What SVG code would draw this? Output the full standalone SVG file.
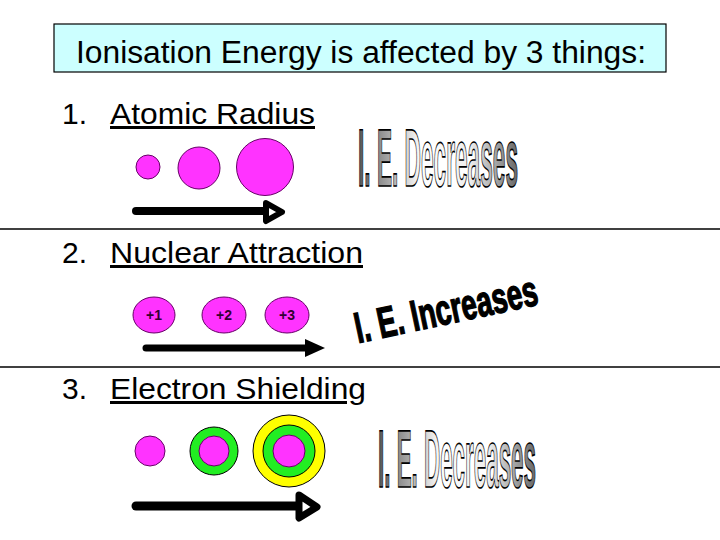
<svg xmlns="http://www.w3.org/2000/svg" width="720" height="540" viewBox="0 0 720 540">
<defs>
<style>
.t{font-family:"Liberation Sans",Arial,sans-serif;fill:#000}
.h{font-size:30px}
.u{text-decoration:underline}
.mag{fill:#ff33ff;stroke:#660066;stroke-width:1}
.grn{fill:#22ee22;stroke:#000;stroke-width:1}
.yel{fill:#ffff00;stroke:#000;stroke-width:1}
.shaft{stroke:#000;stroke-linecap:round;fill:none}
.wa{font-family:"Liberation Sans",Arial,sans-serif;font-weight:bold;stroke:#000;stroke-width:1.3;vector-effect:non-scaling-stroke}
.ion{font-family:"Liberation Sans",Arial,sans-serif;font-weight:bold;font-size:14px;fill:#330033;text-anchor:middle}
</style>
<linearGradient id="gr" x1="0" y1="0" x2="1" y2="0">
<stop offset="0" stop-color="#555"/>
<stop offset="0.4" stop-color="#fff"/>
<stop offset="0.7" stop-color="#eee"/>
<stop offset="1" stop-color="#666"/>
</linearGradient>
</defs>
<rect width="720" height="540" fill="#fff"/>

<g id="title">
<rect x="54" y="24" width="612" height="48" fill="#ccffff" stroke="#000" stroke-width="1.2"/>
<text class="t" x="361" y="63" font-size="31" text-anchor="middle" textLength="570" lengthAdjust="spacingAndGlyphs">Ionisation Energy is affected by 3 things:</text>
</g>

<g id="dividers" stroke="#000" stroke-width="1.5">
<line x1="0" y1="229" x2="720" y2="229"/>
<line x1="0" y1="367" x2="720" y2="367"/>
</g>

<g id="heading1">
<text class="t h" x="62" y="124">1.</text>
<text class="t h u" x="110" y="124" textLength="205" lengthAdjust="spacingAndGlyphs">Atomic Radius</text>
</g>
<g id="heading2">
<text class="t h" x="62" y="263">2.</text>
<text class="t h u" x="110" y="263" textLength="253" lengthAdjust="spacingAndGlyphs">Nuclear Attraction</text>
</g>
<g id="heading3">
<text class="t h" x="62" y="399">3.</text>
<text class="t h u" x="110" y="399" textLength="256" lengthAdjust="spacingAndGlyphs">Electron Shielding</text>
</g>

<g id="radius-atoms">
<circle class="mag" cx="148" cy="167" r="12"/>
<circle class="mag" cx="199" cy="168" r="21"/>
<circle class="mag" cx="265" cy="167" r="28.5"/>
</g>

<g id="charge-atoms">
<ellipse class="mag" cx="154" cy="315" rx="21" ry="18"/>
<text class="ion" x="154" y="320">+1</text>
<ellipse class="mag" cx="224" cy="315" rx="22" ry="18"/>
<text class="ion" x="224" y="320">+2</text>
<ellipse class="mag" cx="287" cy="315" rx="22" ry="18"/>
<text class="ion" x="287" y="320">+3</text>
</g>

<g id="shielding-atoms">
<circle class="mag" cx="150" cy="451" r="15"/>
<circle class="grn" cx="214" cy="451" r="24"/>
<circle class="mag" cx="214" cy="451" r="15"/>
<circle class="yel" cx="289" cy="451" r="36"/>
<circle class="grn" cx="289" cy="451" r="26"/>
<circle class="mag" cx="289" cy="451" r="16"/>
</g>

<g id="connectors">
<line class="shaft" x1="136" y1="211" x2="266" y2="211" stroke-width="8"/>
<polygon points="266,203 282,212 266,221" fill="#fff" stroke="#000" stroke-width="6" stroke-linejoin="round"/>
<line class="shaft" x1="146" y1="348" x2="308" y2="348" stroke-width="7" stroke-linecap="butt"/>
<polygon points="305,339 325,348 305,357" fill="#000"/>
<line class="shaft" x1="136" y1="506" x2="299" y2="506" stroke-width="9"/>
<polygon points="299,495 317,507 299,518" fill="#fff" stroke="#000" stroke-width="7" stroke-linejoin="round"/>
</g>

<g id="label-decreases-1">
<text class="wa" transform="translate(358,186) scale(1,2.4)" font-size="34" fill="url(#gr)" textLength="160" lengthAdjust="spacingAndGlyphs">I. E. Decreases</text>
</g>
<g id="label-increases">
<text class="wa" transform="translate(358,343) rotate(-12) scale(1,1.2)" font-size="36" fill="#000" textLength="186" lengthAdjust="spacingAndGlyphs">I. E. Increases</text>
</g>
<g id="label-decreases-2">
<text class="wa" transform="translate(378,487) scale(1,2.4)" font-size="34" fill="url(#gr)" textLength="158" lengthAdjust="spacingAndGlyphs">I. E. Decreases</text>
</g>
</svg>
